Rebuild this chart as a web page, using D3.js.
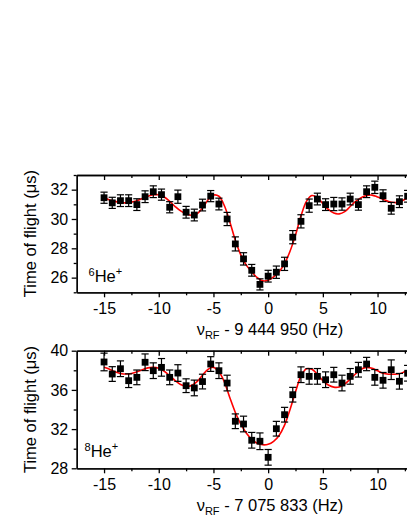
<!DOCTYPE html>
<meta charset="utf-8">
<script src="https://d3js.org/d3.v7.min.js"></script>
<style>
  body { margin: 0; background: #fff; overflow: hidden; }
  svg { font-family: "Liberation Sans", Arial, sans-serif; display: block; }
  .tick text { font-size: 16px; fill: #000; }
  .tick line, .domain { stroke: #000; stroke-width: 1.3; }
</style>
<div id="chart"></div>
<script>
// ---- data ----
// frequency offsets (Hz) of the measured points
const freq = [-15, -14.25, -13.5, -12.75, -12, -11.25, -10.5, -9.75, -9, -8.25,
  -7.5, -6.75, -6, -5.25, -4.5, -3.75, -3, -2.25, -1.5, -0.75,
  0, 0.75, 1.5, 2.25, 3, 3.75, 4.5, 5.25, 6, 6.75,
  7.5, 8.25, 9, 9.75, 10.5, 11.25, 12, 12.75];

// 6He+ time of flight (us) and errors
const tofHe6 = [31.45, 31.1, 31.25, 31.25, 30.98, 31.52, 31.86, 31.66, 30.8, 31.52,
  30.46, 30.27, 30.95, 31.56, 31.02, 30.0, 28.3, 27.28, 26.5, 25.54,
  26.1, 26.37, 26.94, 28.76, 29.84, 30.91, 31.36, 30.98, 31.02, 31.02,
  31.36, 30.98, 31.86, 32.16, 31.59, 30.73, 31.18, 31.55];
const errHe6 = [0.38, 0.38, 0.4, 0.4, 0.4, 0.4, 0.4, 0.38, 0.38, 0.45,
  0.4, 0.4, 0.4, 0.38, 0.4, 0.45, 0.48, 0.42, 0.4, 0.38,
  0.4, 0.42, 0.45, 0.45, 0.45, 0.45, 0.4, 0.4, 0.45, 0.42,
  0.4, 0.38, 0.4, 0.42, 0.4, 0.4, 0.4, 0.4];

// 8He+ time of flight (us) and errors
const tofHe8 = [38.85, 37.62, 38.16, 36.94, 37.28, 38.82, 37.96, 38.3, 37.28, 37.72,
  36.43, 36.2, 36.85, 38.64, 37.96, 36.7, 32.8, 32.52, 30.86, 30.76,
  29.12, 32.04, 33.47, 35.51, 37.55, 37.38, 37.38, 37.04, 37.55, 36.7,
  37.38, 38.06, 38.64, 37.28, 36.98, 38.06, 36.88, 37.7];
const errHe8 = [0.9, 0.75, 0.8, 0.7, 0.75, 0.85, 0.8, 0.9, 0.75, 0.85,
  0.7, 0.8, 0.75, 0.75, 0.8, 0.8, 0.75, 0.8, 0.8, 0.85,
  0.8, 0.75, 0.75, 0.75, 0.8, 0.8, 0.8, 0.8, 0.75, 0.8,
  0.8, 0.75, 0.68, 0.8, 0.8, 1.0, 0.8, 0.8];

// fitted curves
const fitFreq = [-15, -14.5, -14, -13.5, -13, -12.5, -12, -11.5, -11, -10.5,
  -10, -9.5, -9, -8.5, -8, -7.5, -7, -6.5, -6, -5.5,
  -5, -4.5, -4, -3.5, -3, -2.5, -2, -1.5, -1, -0.5,
  0, 0.5, 1, 1.5, 2, 2.5, 3, 3.5, 4, 4.5,
  5, 5.5, 6, 6.5, 7, 7.5, 8, 8.5, 9, 9.5,
  10, 10.5, 11, 11.5, 12, 12.5, 13];
const fitHe6 = [31.45, 31.3, 31.2, 31.12, 31.1, 31.15, 31.25, 31.4, 31.55, 31.65,
  31.65, 31.5, 31.2, 30.85, 30.55, 30.35, 30.25, 30.35, 30.75, 31.3,
  31.63, 31.55, 30.9, 29.8, 28.55, 27.55, 26.85, 26.4, 26.0, 25.78,
  25.82, 26.05, 26.4, 26.95, 27.8, 28.9, 30.2, 31.2, 31.6, 31.45,
  31.05, 30.65, 30.4, 30.35, 30.5, 30.85, 31.2, 31.45, 31.6, 31.63,
  31.5, 31.35, 31.2, 31.12, 31.15, 31.35, 31.55];
const fitHe8 = [38.3, 38.1, 37.85, 37.68, 37.62, 37.68, 37.85, 38.05, 38.25, 38.3,
  38.2, 37.9, 37.45, 36.95, 36.55, 36.37, 36.45, 36.85, 37.5, 38.1,
  38.3, 37.85, 36.8, 35.2, 33.7, 32.5, 31.6, 30.95, 30.55, 30.4,
  30.45, 30.75, 31.35, 32.4, 34.0, 35.8, 37.4, 38.15, 38.1, 37.6,
  36.95, 36.5, 36.28, 36.3, 36.6, 37.1, 37.65, 38.1, 38.3, 38.2,
  37.95, 37.7, 37.6, 37.6, 37.65, 37.85, 38.0];

// axis ticks (only the ones inside the window)
const xMajor = [-15, -10, -5, 0, 5, 10];
const xMinor = [-12.5, -7.5, -2.5, 2.5, 7.5, 12.5];
const yMajorHe6 = [26, 28, 30, 32], yMinorHe6 = [25, 27, 29, 31, 33];
const yMajorHe8 = [28, 32, 36, 40], yMinorHe8 = [30, 34, 38];

// ---- drawing ----
const width = 407, height = 527;
const svg = d3.select("#chart").append("svg")
  .attr("width", width).attr("height", height);

// the frame runs past the right edge of the window, like in the picture
const x = d3.scaleLinear().domain([-17.5, 17.5]).range([76.7, 459.6]);

function drawPanel(p) {
  const y = d3.scaleLinear().domain(p.yDomain).range([p.bottom, p.top]);
  const g = svg.append("g");

  // minor ticks first
  g.append("g").attr("transform", `translate(0,${p.bottom})`)
    .call(d3.axisBottom(x).tickValues(xMinor).tickSize(3).tickSizeOuter(0).tickFormat(""));
  g.append("g").attr("transform", `translate(0,${p.top})`)
    .call(d3.axisTop(x).tickValues(xMinor).tickSize(-3).tickSizeOuter(0).tickFormat(""));
  g.append("g").attr("transform", `translate(${x.range()[0]},0)`)
    .call(d3.axisLeft(y).tickValues(p.yMinor).tickSize(3).tickSizeOuter(0).tickFormat(""));

  // major ticks with labels
  g.append("g").attr("transform", `translate(0,${p.bottom})`)
    .call(d3.axisBottom(x).tickValues(xMajor).tickSize(5).tickPadding(5).tickSizeOuter(0)
      .tickFormat(d => String(d)));
  g.append("g").attr("transform", `translate(0,${p.top})`)
    .call(d3.axisTop(x).tickValues(xMajor).tickSize(-5).tickSizeOuter(0).tickFormat(""));
  g.append("g").attr("transform", `translate(${x.range()[0]},0)`)
    .call(d3.axisLeft(y).tickValues(p.yMajor).tickSize(5).tickPadding(3.5).tickSizeOuter(0)
      .tickFormat(d => String(d)));

  // fitted curve
  g.append("path")
    .datum(fitFreq.map((f, i) => [f, p.fit[i]]))
    .attr("fill", "none")
    .attr("stroke", "#ff0000")
    .attr("stroke-width", 1.6)
    .attr("d", d3.line().x(d => x(d[0])).y(d => y(d[1])).curve(d3.curveCatmullRom));

  // error bars
  const pts = freq.map((f, i) => ({f: f, v: p.tof[i], e: p.err[i]}));
  const eb = g.append("g").attr("stroke", "#000").attr("stroke-width", 1.2);
  eb.selectAll(".stem").data(pts).join("line")
    .attr("x1", d => x(d.f)).attr("x2", d => x(d.f))
    .attr("y1", d => y(d.v - d.e)).attr("y2", d => y(d.v + d.e));
  eb.selectAll(".capHi").data(pts).join("line")
    .attr("x1", d => x(d.f) - 3.6).attr("x2", d => x(d.f) + 3.6)
    .attr("y1", d => y(d.v + d.e)).attr("y2", d => y(d.v + d.e));
  eb.selectAll(".capLo").data(pts).join("line")
    .attr("x1", d => x(d.f) - 3.6).attr("x2", d => x(d.f) + 3.6)
    .attr("y1", d => y(d.v - d.e)).attr("y2", d => y(d.v - d.e));

  // square markers
  g.append("g").selectAll("rect").data(pts).join("rect")
    .attr("x", d => x(d.f) - 3.4).attr("y", d => y(d.v) - 3.4)
    .attr("width", 6.8).attr("height", 6.8)
    .attr("fill", "#000");

  // isotope label
  const lab = g.append("text").attr("x", p.labX).attr("y", p.labY)
    .style("font-size", "16.5px");
  lab.append("tspan").attr("dy", "-6").style("font-size", "11px").text(p.mass);
  lab.append("tspan").attr("dy", "6").text("He");
  lab.append("tspan").attr("dy", "-7").style("font-size", "11px").text("+");

  // x axis title
  const xt = g.append("text").attr("x", 270).attr("y", p.bottom + 42.7)
    .attr("text-anchor", "middle").style("font-size", "16.5px");
  xt.append("tspan").text("\u03bd");
  xt.append("tspan").attr("dy", "4").style("font-size", "11px").text("RF");
  xt.append("tspan").attr("dy", "-4").text(" - " + p.center + " (Hz)");

  // y axis title
  g.append("text")
    .attr("transform", `translate(35.5,${(p.top + p.bottom) / 2}) rotate(-90)`)
    .attr("text-anchor", "middle").style("font-size", "16.5px")
    .text("Time of flight (\u03bcs)");
}

drawPanel({top: 175, bottom: 292.3, yDomain: [25, 33], yMajor: yMajorHe6, yMinor: yMinorHe6,
  tof: tofHe6, err: errHe6, fit: fitHe6, mass: "6", labX: 88.5, labY: 282, center: "9 444 950"});
drawPanel({top: 350.7, bottom: 468.3, yDomain: [28, 40], yMajor: yMajorHe8, yMinor: yMinorHe8,
  tof: tofHe8, err: errHe8, fit: fitHe8, mass: "8", labX: 84.5, labY: 457.3, center: "7 075 833"});
</script>
